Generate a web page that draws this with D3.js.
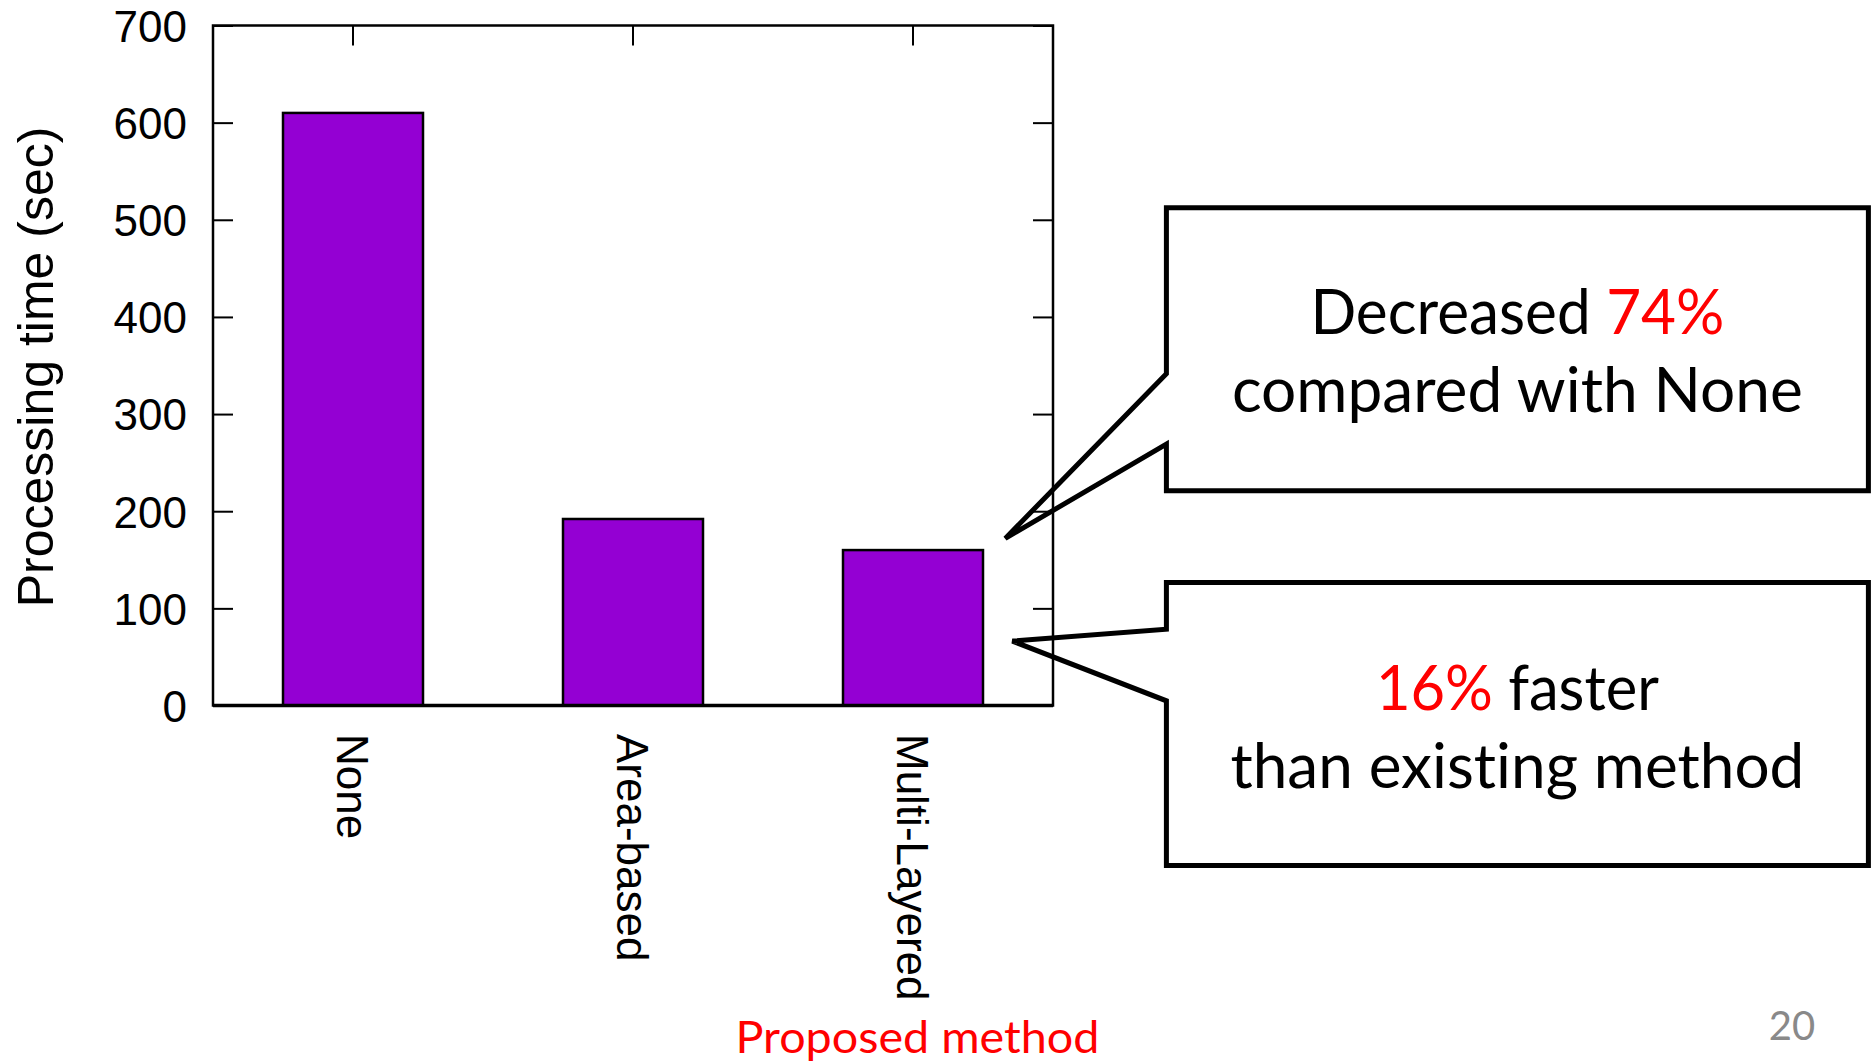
<!DOCTYPE html>
<html>
<head>
<meta charset="utf-8">
<script src="https://cdn.jsdelivr.net/npm/d3@7"></script>
<style>
  html, body { margin: 0; padding: 0; background: #ffffff; }
  svg { display: block; }
  text { font-variant-ligatures: none; font-feature-settings: "liga" 0, "clig" 0; }
</style>
</head>
<body>
<svg id="chart" width="1872" height="1061"></svg>
<script>
// ---- data ----
const categories = ["None", "Area-based", "Multi-Layered"];
const values = [610, 192, 160];
const yTickValues = [0, 100, 200, 300, 400, 500, 600, 700];
const yTitle = "Processing time (sec)";
const xNote = "Proposed method";
const callout1 = [["Decreased ", "74%"], ["compared with None"]];
const callout2 = [["16%", " faster"], ["than existing method"]];
const pageNumber = "20";

// ---- layout ----
const svg = d3.select("#chart");
const W = 1872, H = 1061;
const plot = { left: 213, right: 1053, top: 25.5, bottom: 705.5 };
const axisFont = "'Liberation Sans', Arial, sans-serif";
const noteFont = "Lato, 'Open Sans', sans-serif";

svg.append("rect").attr("width", W).attr("height", H).attr("fill", "#fff");

const x = d3.scaleBand()
  .domain(categories)
  .range([plot.left, plot.right])
  .paddingInner(0.5)
  .paddingOuter(0.25);

const y = d3.scaleLinear().domain([0, 700]).range([plot.bottom, plot.top]);

// ticks (inward) via d3 axes
const tickLen = 20;
const gLeft = svg.append("g").attr("transform", `translate(${plot.left},0)`)
  .call(d3.axisRight(y).tickValues(yTickValues).tickSize(tickLen).tickFormat(""));
const gRight = svg.append("g").attr("transform", `translate(${plot.right},0)`)
  .call(d3.axisLeft(y).tickValues(yTickValues).tickSize(tickLen).tickFormat(""));
const gTop = svg.append("g").attr("transform", `translate(0,${plot.top})`)
  .call(d3.axisBottom(x).tickSize(tickLen).tickFormat(""));
[gLeft, gRight, gTop].forEach(g => {
  g.select(".domain").remove();
  g.selectAll(".tick line").attr("stroke", "#000").attr("stroke-width", 2);
});

// y tick labels
const gLabels = svg.append("g").attr("transform", `translate(${plot.left - 26},0)`)
  .call(d3.axisLeft(y).tickValues(yTickValues).tickSize(0).tickPadding(0));
gLabels.select(".domain").remove();
gLabels.selectAll(".tick text")
  .attr("font-family", axisFont)
  .attr("font-size", 44)
  .attr("fill", "#000")
  .attr("dy", "0.36em");

// bars
svg.append("g").selectAll("rect")
  .data(categories)
  .join("rect")
  .attr("x", d => x(d))
  .attr("width", x.bandwidth())
  .attr("y", (d, i) => y(values[i]))
  .attr("height", (d, i) => y(0) - y(values[i]))
  .attr("fill", "#9400d3")
  .attr("stroke", "#000")
  .attr("stroke-width", 2.5);

// frame
svg.append("rect")
  .attr("x", plot.left).attr("y", plot.top)
  .attr("width", plot.right - plot.left)
  .attr("height", plot.bottom - plot.top)
  .attr("fill", "none").attr("stroke", "#000").attr("stroke-width", 2.5);
svg.append("line")
  .attr("x1", plot.left).attr("x2", plot.right)
  .attr("y1", y(0)).attr("y2", y(0))
  .attr("stroke", "#000").attr("stroke-width", 3.5);

// x category labels (rotated)
svg.append("g").selectAll("text")
  .data(categories)
  .join("text")
  .attr("transform", d => `translate(${x(d) + x.bandwidth() / 2},734) rotate(90)`)
  .attr("dy", "0.36em")
  .attr("text-anchor", "start")
  .attr("font-family", axisFont)
  .attr("font-size", 44)
  .attr("fill", "#000")
  .text(d => d);

// y title
svg.append("text")
  .attr("transform", `translate(35,367) rotate(-90)`)
  .attr("dy", "0.36em")
  .attr("text-anchor", "middle")
  .attr("font-family", axisFont)
  .attr("font-size", 50)
  .attr("fill", "#000")
  .text(yTitle);

// proposed method note
svg.append("text")
  .attr("x", 917.5).attr("y", 1053)
  .attr("text-anchor", "middle")
  .attr("font-family", noteFont)
  .attr("font-size", 44)
  .attr("fill", "#ff0000")
  .attr("textLength", 364).attr("lengthAdjust", "spacingAndGlyphs")
  .text(xNote);

// callouts
function callout(box, ptr, lines, redIndex, baselines, widths) {
  const p = d3.path();
  p.moveTo(box.l, box.t);
  p.lineTo(box.r, box.t);
  p.lineTo(box.r, box.b);
  p.lineTo(box.l, box.b);
  p.lineTo(box.l, ptr.yb);
  p.lineTo(ptr.tx, ptr.ty);
  p.lineTo(box.l, ptr.ya);
  p.closePath();
  svg.append("path").attr("d", p.toString())
    .attr("fill", "none").attr("stroke", "#000")
    .attr("stroke-width", 5).attr("stroke-linejoin", "miter");
  const cx = (box.l + box.r) / 2;
  lines.forEach((parts, li) => {
    const t = svg.append("text")
      .attr("x", cx).attr("y", baselines[li])
      .attr("text-anchor", "middle")
      .attr("font-family", noteFont)
      .attr("font-size", 61)
      .attr("textLength", widths[li]).attr("lengthAdjust", "spacingAndGlyphs");
    parts.forEach((s, pi) => {
      t.append("tspan")
        .attr("fill", (li === 0 && pi === redIndex) ? "#ff0000" : "#000")
        .text(s);
    });
  });
}
callout({ l: 1166.4, r: 1868.4, t: 207.7, b: 490.7 },
        { ya: 373.7, tx: 1005.3, ty: 538.4, yb: 444.1 },
        callout1, 1, [334, 412], [414, 571]);
callout({ l: 1166.4, r: 1868.4, t: 582.6, b: 865.6 },
        { ya: 629.2, tx: 1012.4, ty: 641.1, yb: 700.8 },
        callout2, 0, [710, 788], [283, 574]);

// page number
svg.append("text")
  .attr("x", 1792).attr("y", 1040)
  .attr("text-anchor", "middle")
  .attr("font-family", noteFont)
  .attr("font-size", 40)
  .attr("fill", "#898989")
  .text(pageNumber);
</script>
</body>
</html>
